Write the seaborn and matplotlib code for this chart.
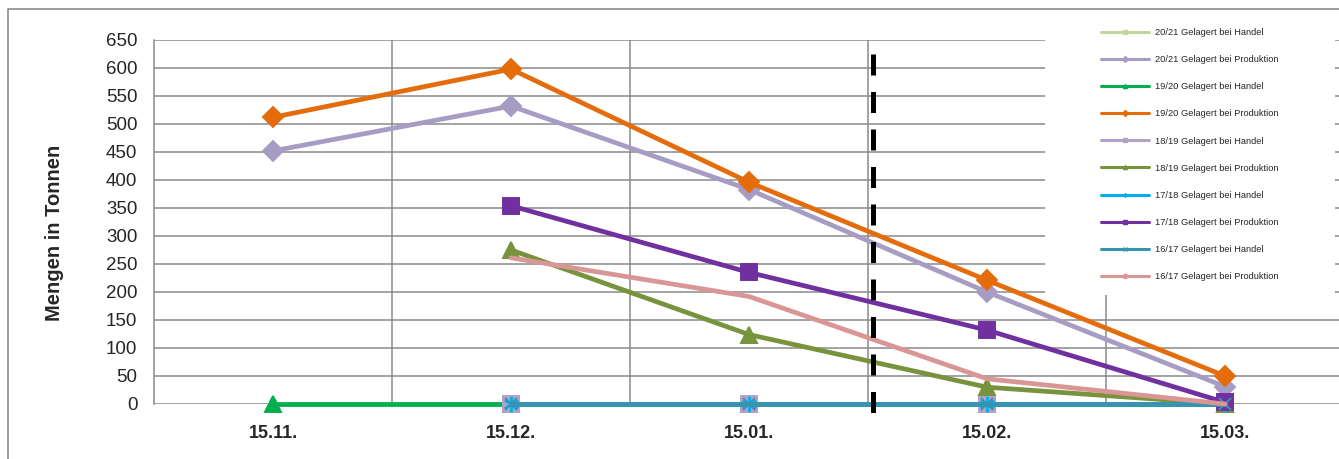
import numpy as np
import pandas as pd
import matplotlib
matplotlib.use('Agg')
import matplotlib.pyplot as plt
from matplotlib.lines import Line2D
from matplotlib.patches import Rectangle
from matplotlib.ticker import FixedLocator
import seaborn as sns

nan = np.nan

# Stichtage
dates = ['15.11.', '15.12.', '15.01.', '15.02.', '15.03.']

# Mengen in Tonnen je Saison
v2021_handel = [0, 0, 0, 0, 0]
v2021_prod = [452, 532, 383, 200, 31]
v1920_handel = [0, 0, 0, 0, 0]
v1920_prod = [512, 598, 396, 221, 50]
v1819_handel = [nan, 0, 0, 0, 0]
v1819_prod = [nan, 275, 124, 30, 0]
v1718_handel = [nan, 0, 0, 0, 0]
v1718_prod = [nan, 354, 235, 132, 3]
v1617_handel = [nan, 0, 0, 0, 0]
v1617_prod = [nan, 261, 192, 45, 0]

labels = ['20/21 Gelagert bei Handel', '20/21 Gelagert bei Produktion',
          '19/20 Gelagert bei Handel', '19/20 Gelagert bei Produktion',
          '18/19 Gelagert bei Handel', '18/19 Gelagert bei Produktion',
          '17/18 Gelagert bei Handel', '17/18 Gelagert bei Produktion',
          '16/17 Gelagert bei Handel', '16/17 Gelagert bei Produktion']
series = [v2021_handel, v2021_prod, v1920_handel, v1920_prod, v1819_handel,
          v1819_prod, v1718_handel, v1718_prod, v1617_handel, v1617_prod]

# style per series: colour, marker, marker size
styles = [('#C3D69B', 's', 4), ('#A69CC4', 'D', 10), ('#00B050', '^', 12),
          ('#E46C0A', 'D', 10), ('#B3A2C7', 's', 11), ('#77933C', '^', 12),
          ('#00B0F0', (6, 2, 0), 11), ('#7030A0', 's', 11),
          ('#3A93AE', 'x', 9), ('#D99694', '', 0)]

sns.set_style('white')
plt.rcParams['font.family'] = ['Liberation Sans', 'DejaVu Sans']

fig = plt.figure(figsize=(13.39, 4.59), dpi=100)
ax = fig.add_axes([154 / 1339, 55 / 459, 1190 / 1339, 364 / 459])

pos = np.arange(len(dates))
for i, (vals, (col, mk, ms)) in enumerate(zip(series, styles)):
    df = pd.DataFrame({'pos': pos, 'menge': vals}).dropna()
    sns.lineplot(data=df, x='pos', y='menge', ax=ax, color=col, linewidth=3.4,
                 marker=mk if mk else None, markersize=ms, markeredgecolor=col,
                 markeredgewidth=1.4, clip_on=False, zorder=3 + i, legend=False)

ax.set_xlim(-0.5, 4.5)
ax.set_ylim(0, 650)
ax.set_yticks(range(0, 651, 50))
ax.set_xticks(pos)
ax.set_xticklabels(dates, fontsize=13, fontweight='bold')
ax.xaxis.set_minor_locator(FixedLocator([0.5, 1.5, 2.5, 3.5]))
ax.tick_params(axis='y', labelsize=13.5, length=0, pad=12)
ax.tick_params(axis='x', which='both', length=0, pad=15)
ax.grid(True, axis='y', color='#8A8A8A', linewidth=1.1)
ax.grid(True, axis='x', which='minor', color='#8A8A8A', linewidth=1.1)
ax.grid(False, axis='x', which='major')
ax.set_axisbelow(True)
for s in ['top', 'right', 'bottom']:
    ax.spines[s].set_visible(False)
ax.spines['left'].set_color('#8A8A8A')
ax.spines['left'].set_linewidth(1.1)
ax.set_xlabel('')
ax.set_ylabel('Mengen in Tonnen', fontsize=14.5, fontweight='bold')
ax.yaxis.set_label_coords(-0.076, 0.47)

# gestrichelte Trennlinie
ax.plot([2.52, 2.52], [0.962, -0.07], transform=ax.get_xaxis_transform(),
        color='black', linewidth=3.6, dashes=(4.2, 3.3), solid_capstyle='butt',
        dash_capstyle='butt', clip_on=False, zorder=20)

# Rahmen des Diagrammbereichs
fig.add_artist(Line2D([8 / 1339, 8 / 1339, 1.0], [0, 1 - 9 / 459, 1 - 9 / 459],
                      transform=fig.transFigure, color='#8C8C8C', linewidth=1.2))

# weisser Hintergrund der Legende
fig.add_artist(Rectangle((1045 / 1339, 1 - 295 / 459), 290 / 1339, 277 / 459,
                         transform=fig.transFigure, facecolor='white',
                         edgecolor='none', zorder=5))

handles = [Line2D([], [], color=col, linewidth=2.2, marker=mk if mk else 'o',
                  markersize=3, markeredgecolor=col)
           for col, mk, ms in styles]
leg = fig.legend(handles, labels, loc='upper left',
                 bbox_to_anchor=(1101 / 1339, 1 - 28 / 459),
                 bbox_transform=fig.transFigure, frameon=False, fontsize=6.7,
                 handlelength=5.2, handletextpad=0.6, labelspacing=1.95,
                 borderpad=0, borderaxespad=0)
leg.set_zorder(6)

fig.savefig('out.png', dpi=100)
